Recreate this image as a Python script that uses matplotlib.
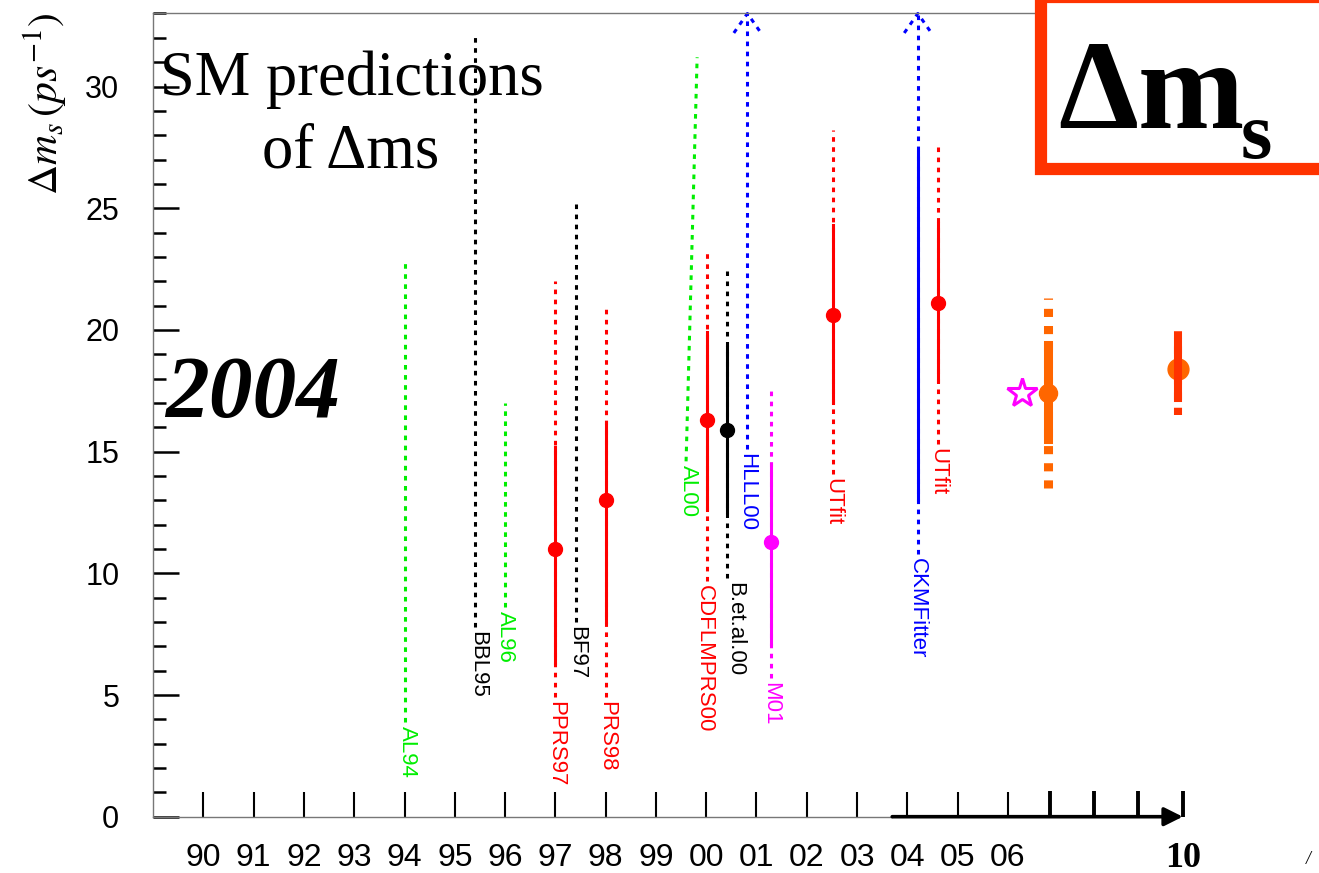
import matplotlib.pyplot as plt
from matplotlib.patches import Rectangle
from matplotlib.ticker import MultipleLocator
from matplotlib.transforms import offset_copy

plt.rcParams['font.family'] = 'Liberation Sans'
plt.rcParams['mathtext.fontset'] = 'stix'

W, H = 1319, 873

# x axis: one unit per year, 0 = 1990 ... 16 = 2006, then a squeezed stretch to 2010
year_labels = ['90', '91', '92', '93', '94', '95', '96', '97', '98', '99',
               '00', '01', '02', '03', '04', '05', '06']
future_ticks = [16.84, 17.71, 18.59, 19.48]
future_labels = ['', '', '', '10']

# SM predictions
names = ['AL94', 'BBL95', 'AL96', 'PPRS97', 'BF97', 'PRS98', 'AL00',
         'CDFLMPRS00', 'B.et.al.00', 'HLLL00', 'M01', 'UTfit', 'CKMFitter', 'UTfit']
colors = ['#00ee00', 'black', '#00ee00', 'red', 'black', 'red', '#00ee00',
          'red', 'black', 'blue', 'magenta', 'red', 'blue', 'red']
x_bottom = [4.00, 5.41, 6.00, 7.00, 7.42, 8.01, 9.60, 10.02, 10.42, 10.82, 11.29, 12.52, 14.21, 14.61]
x_top = [4.00, 5.41, 6.00, 7.00, 7.42, 8.01, 9.82, 10.02, 10.42, 10.82, 11.29, 12.52, 14.21, 14.61]
label_x = [4.05, 5.46, 6.00, 7.00, 7.42, 8.01, 9.65, 9.96, 10.56, 10.80, 11.29, 12.52, 14.21, 14.61]
central = [None, None, None, 11.0, None, 13.0, None, 16.3, 15.9, None, 11.3, 20.6, None, 21.1]
solid_lo = [None, None, None, 6.3, None, 8.0, None, 12.6, 12.5, None, 7.1, 17.0, 13.0, 17.9]
solid_hi = [None, None, None, 15.2, None, 16.2, None, 19.9, 19.3, None, 14.5, 24.3, 27.3, 24.4]
dot_lo = [3.9, 7.8, 8.6, 4.9, 8.0, 4.9, 14.6, 9.7, 9.8, 15.1, 5.7, 14.1, 10.8, 15.3]
dot_hi = [22.75, 32.1, 17.0, 22.0, 25.2, 21.0, 31.2, 23.3, 22.4, 33.0, 17.6, 28.2, 33.0, 27.7]
open_up = [False, False, False, False, False, False, False, False, False, True, False, False, True, False]

# future measurements (orange)
meas_x = [16.80, 19.38]
meas_val = [17.4, 18.4]
meas_solid_lo = [15.5, 17.2]
meas_solid_hi = [19.4, 19.5]
meas_dash_lo = [13.5, 16.5]
meas_dash_hi = [21.3, 20.1]
meas_line_colors = ['#ff6600', '#ff3300']
meas_lw = [6.5, 5.8]
meas_ms = [13, 15]

star_x = 16.28
star_val = 17.4

fig = plt.figure(figsize=(W / 100, H / 100), dpi=100)
ax = fig.add_axes([152.7 / W, (H - 816.7) / H, 1 - 152.7 / W, (816.7 - 13) / H])
ax.set_xlim(-1.01, 22.19)
ax.set_ylim(0, 33.02)

for side in ['left', 'top', 'bottom']:
    ax.spines[side].set_color('#777777')
    ax.spines[side].set_linewidth(1.0)
ax.spines['right'].set_visible(False)
ax.spines['bottom'].set_bounds(-1.01, 13.70)

ax.yaxis.set_major_locator(MultipleLocator(5))
ax.yaxis.set_minor_locator(MultipleLocator(1))
ax.tick_params(axis='y', which='major', direction='in', length=19, width=1.8,
               labelsize=22, pad=24)
ax.tick_params(axis='y', which='minor', direction='in', length=9.5, width=1.8)

ax.set_xticks(range(len(year_labels)), labels=year_labels)
ax.set_xticks(future_ticks, labels=future_labels, minor=True)
ax.tick_params(axis='x', which='major', direction='in', length=18, width=1.5,
               labelsize=23, pad=19)
ax.tick_params(axis='x', which='minor', direction='in', length=19, width=2.8,
               labelsize=26, pad=18)
for t in ax.get_xticklabels(minor=True):
    t.set_fontfamily('Liberation Serif')
    t.set_fontweight('bold')

# arrow to 2010
ax.annotate('', xy=(future_ticks[-1], 0), xytext=(13.70, 0),
            arrowprops=dict(arrowstyle='-|>', lw=2.6, color='black', mutation_scale=28,
                            shrinkA=0, shrinkB=0),
            annotation_clip=False)

lab_tr = offset_copy(ax.transData, fig=fig, y=-4, units='dots')
for i, name in enumerate(names):
    c = colors[i]
    ax.plot([x_bottom[i], x_top[i]], [dot_lo[i], dot_hi[i]], color=c, lw=2.2,
            dashes=(1.5, 1.8), clip_on=False)
    if solid_lo[i] is not None:
        ax.plot([x_top[i], x_top[i]], [solid_lo[i], solid_hi[i]], color=c, lw=2.2)
    if central[i] is not None:
        ax.plot(x_top[i], central[i], 'o', color=c, ms=10)
    if open_up[i]:
        ax.plot([x_top[i] - 0.27, x_top[i], x_top[i] + 0.27], [32.2, 33.0, 32.2],
                color=c, lw=2.2, dashes=(1.5, 1.8), clip_on=False)
    ax.text(label_x[i], dot_lo[i], name, rotation=270, ha='center', va='top',
            color=c, fontsize=16, transform=lab_tr)

ax.plot(star_x, star_val, marker='*', ms=22, mfc='white', mec='magenta', mew=2.2,
        ls='none')
for i in range(len(meas_x)):
    ax.plot(meas_x[i], meas_val[i], 'o', color='#ff6600', ms=meas_ms[i], zorder=3)
    ax.plot([meas_x[i]] * 2, [meas_dash_lo[i], meas_dash_hi[i]], color=meas_line_colors[i],
            lw=meas_lw[i], dashes=(0.9, 1.0), zorder=2)
    ax.plot([meas_x[i]] * 2, [meas_solid_lo[i], meas_solid_hi[i]], color=meas_line_colors[i],
            lw=meas_lw[i], zorder=4 if i == 1 else 2)


def fx(px):
    return px / W


def fy(py):
    return 1 - py / H


fig.text(fx(45), fy(13), r'$\Delta m_s\,(ps^{-1})$', rotation=90, ha='center', va='top',
         fontsize=30)

serif = 'Liberation Serif'
fig.text(fx(160), fy(95), 'SM predictions', fontfamily=serif, fontsize=45, va='baseline')
fig.text(fx(262), fy(167), 'of \u0394ms', fontfamily=serif, fontsize=45, va='baseline')
fig.text(fx(165), fy(417), '2004', fontfamily=serif, fontsize=63, fontweight='bold',
         fontstyle='italic', va='baseline')
fig.text(fx(1306), fy(864), '/', fontfamily=serif, fontsize=13, fontstyle='italic',
         va='baseline')

box = Rectangle((fx(1040.5), fy(169)), (1345 - 1040.5) / W, (169 + 3) / H,
                transform=fig.transFigure, facecolor='white', edgecolor='#ff3300',
                lw=8.8, zorder=5, clip_on=False)
fig.add_artist(box)
fig.text(fx(1058), fy(128), '\u0394m', fontfamily=serif, fontsize=92, fontweight='bold',
         va='baseline', zorder=6)
fig.text(fx(1241), fy(158), 's', fontfamily=serif, fontsize=58, fontweight='bold',
         va='baseline', zorder=6)

fig.savefig('out.png', dpi=100)
